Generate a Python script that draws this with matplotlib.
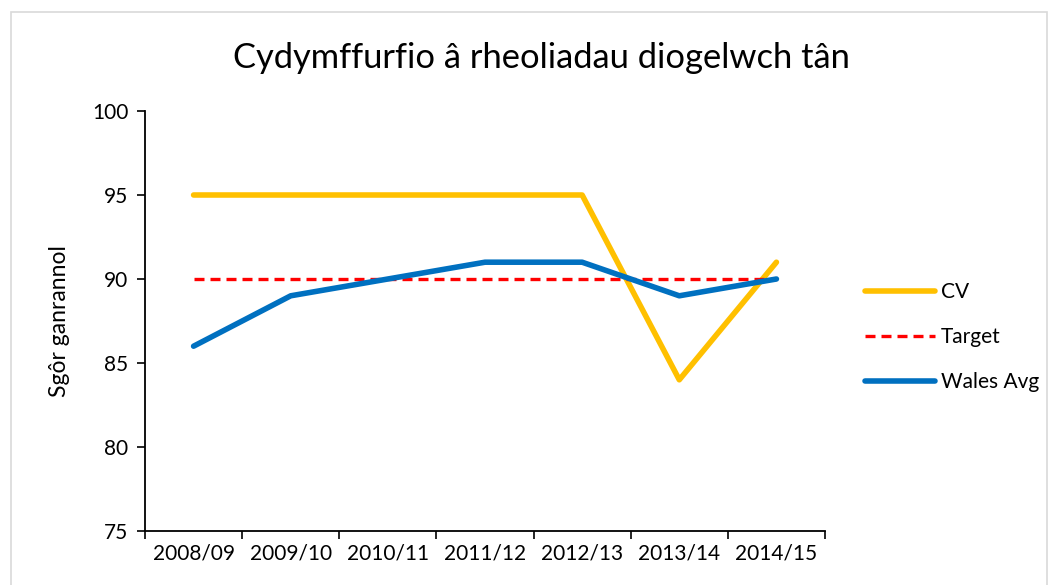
import matplotlib
matplotlib.use("Agg")
import matplotlib.pyplot as plt
from matplotlib.patches import Rectangle

plt.rcParams['font.family'] = ['Lato', 'DejaVu Sans']

years = ["2008/09", "2009/10", "2010/11", "2011/12", "2012/13", "2013/14", "2014/15"]
cv = [95, 95, 95, 95, 95, 84, 91]
target = [90, 90, 90, 90, 90, 90, 90]
wales = [86, 89, 90, 91, 91, 89, 90]

fig = plt.figure(figsize=(10.58, 5.85), dpi=100)
ax = fig.add_axes([145/1058, 1 - 531/585, 680/1058, 420/585])

x = list(range(len(years)))
ax.plot(x, cv, color="#FFC000", lw=4.0, label="CV", solid_capstyle="round")
ax.plot(x, target, color="#FF0000", lw=2.4, ls=(0, (3, 1.8)), label="Target")
ax.plot(x, wales, color="#0070C0", lw=4.0, label="Wales Avg", solid_capstyle="round")

ax.set_xlim(-0.5, 6.5)
ax.set_ylim(75, 100)
ax.set_yticks([75, 80, 85, 90, 95, 100])
ax.set_xticks([i - 0.5 for i in range(8)], minor=False)
ax.set_xticklabels([])
ax.set_xticks(x, minor=True)
ax.set_xticklabels(years, minor=True)
ax.tick_params(axis="x", which="minor", length=0, pad=9, labelsize=15)
ax.tick_params(axis="x", which="major", length=6, width=1.2, direction="out")
ax.tick_params(axis="y", length=6, width=1.2, labelsize=15, pad=6)
for s in ["top", "right"]:
    ax.spines[s].set_visible(False)
for s in ["left", "bottom"]:
    ax.spines[s].set_linewidth(1.3)

ax.set_ylabel("Sgôr ganrannol", fontsize=16.5, labelpad=16)
fig.text(541/1058, 1 - 58/585, "Cydymffurfio â rheoliadau diogelwch tân",
         ha="center", va="center", fontsize=24.8)

leg = ax.legend(loc="center left", bbox_to_anchor=(865/1058, 1 - 337/585),
                bbox_transform=fig.transFigure, frameon=False, fontsize=15,
                borderpad=0, borderaxespad=0,
                handlelength=3.35, handletextpad=0.3, labelspacing=1.2)

fig.patches.append(Rectangle((11/1058, -0.01), 1036/1058, 1 - 12/585 + 0.01,
                             transform=fig.transFigure, fill=False,
                             edgecolor="#D9D9D9", lw=1.2))

fig.savefig("out.png", dpi=100)
